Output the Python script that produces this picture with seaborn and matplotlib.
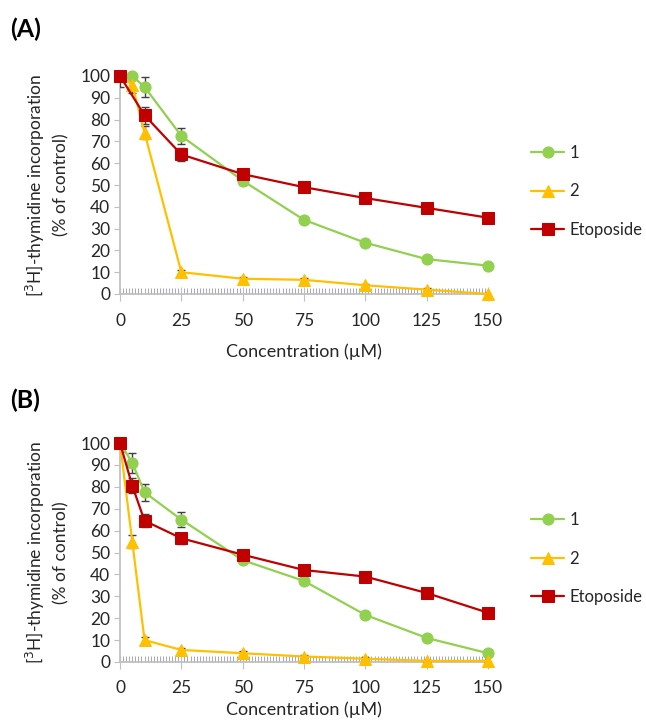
import numpy as np
import pandas as pd
import matplotlib
matplotlib.use("Agg")
import matplotlib.pyplot as plt
import seaborn as sns
from matplotlib.ticker import MultipleLocator

# --- dane ---
conc = [0, 5, 10, 25, 50, 75, 100, 125, 150]
conc_eto_a = [0, 10, 25, 50, 75, 100, 125, 150]

a_c1 = [100, 100, 95, 72.5, 52, 34, 23.5, 16, 13]
a_c1_err = [0.5, 0.5, 4.5, 3.5, 2, 1, 0.8, 0.8, 0.8]
a_c2 = [100, 96, 74, 10, 7, 6.5, 4, 2, 0]
a_c2_err = [0.5, 4, 3, 1, 1, 1, 0.8, 0.8, 0.5]
a_eto = [100, 82, 64, 55, 49, 44, 39.5, 35]
a_eto_err = [5, 4, 3, 2.5, 2, 1.5, 1, 1]

b_c1 = [100, 91, 77.5, 65, 46.5, 37, 21.5, 11, 4]
b_c1_err = [0.5, 4.5, 4, 3.5, 1.5, 1.5, 0.8, 0.8, 0.8]
b_c2 = [100, 55, 10, 5.5, 4, 2.5, 1.5, 0.5, 0.5]
b_c2_err = [0.5, 3, 1.5, 1, 1, 0.8, 0.8, 0.5, 0.5]
b_eto = [100, 80.5, 64.5, 56.5, 49, 42, 39, 31.5, 22.5]
b_eto_err = [4, 3.5, 3, 2.5, 2, 2, 1.5, 1, 1]

labels = ["1", "2", "Etoposide"]
colors = ["#92D050", "#FFC000", "#C00000"]
markers = ["o", "^", "s"]
panel_names = ["(A)", "(B)"]

sns.set_theme(style="white")
plt.rcParams["font.family"] = ["Lato", "DejaVu Sans"]

fig = plt.figure(figsize=(6.46, 7.28), dpi=100)
W, H = 646, 728


def rect(l, t, r, b):
    return [l / W, 1 - b / H, (r - l) / W, (b - t) / H]


panels = [
    dict(box=rect(120, 76, 488, 294), series=[(conc, a_c1, a_c1_err), (conc, a_c2, a_c2_err),
                                              (conc_eto_a, a_eto, a_eto_err)],
         label_y=29, leg_y=145, xpad=10, tpad=9),
    dict(box=rect(120, 443, 488, 662), series=[(conc, b_c1, b_c1_err), (conc, b_c2, b_c2_err),
                                               (conc, b_eto, b_eto_err)],
         label_y=400, leg_y=512, xpad=4, tpad=8),
]

for p, name in zip(panels, panel_names):
    ax = fig.add_axes(p["box"])
    for (x, y, e), lab, col, mk in zip(p["series"], labels, colors, markers):
        df = pd.DataFrame({"x": x, "y": y})
        ax.errorbar(x, y, yerr=e, fmt="none", ecolor="#404040", elinewidth=1,
                    capsize=3, capthick=1, zorder=3)
        sns.lineplot(data=df, x="x", y="y", ax=ax, color=col, marker=mk,
                     markersize=8 if mk != "^" else 9, markeredgecolor=col,
                     linewidth=1.6, label=lab, zorder=4, clip_on=False)
    ax.set_xlim(0, 150)
    ax.set_ylim(0, 100)
    ax.set_xticks([0, 25, 50, 75, 100, 125, 150])
    ax.set_yticks(range(0, 101, 10))
    ax.xaxis.set_minor_locator(MultipleLocator(1.25))
    for s in ["top", "right"]:
        ax.spines[s].set_visible(False)
    ax.spines["left"].set_color("#bfbfbf")
    ax.spines["bottom"].set_color("#bfbfbf")
    ax.tick_params(axis="y", which="major", direction="out", length=4, width=0.8,
                   color="#bfbfbf", labelsize=12.5, labelcolor="#262626", pad=3, left=True)
    ax.tick_params(axis="x", which="major", direction="inout", length=10, width=0.8,
                   color="#bfbfbf", labelsize=12.5, labelcolor="#262626", pad=p["tpad"],
                   bottom=True)
    ax.tick_params(axis="x", which="minor", direction="in", length=4, width=0.7,
                   color="#a6a6c0", bottom=True)
    ax.set_xlabel("Concentration (µM)", fontsize=13, color="#262626", labelpad=p["xpad"])
    ax.set_ylabel("[$^3$H]-thymidine incorporation\n(% of control)", fontsize=12.5,
                  color="#262626", labelpad=8, linespacing=1.45)
    ax.grid(False)
    leg = ax.legend(loc="upper left", bbox_to_anchor=(531 / W, 1 - p["leg_y"] / H),
                    bbox_transform=fig.transFigure, frameon=False, fontsize=12,
                    handlelength=2.0, labelspacing=1.35, handletextpad=0.3,
                    borderaxespad=0, borderpad=0)
    for t in leg.get_texts():
        t.set_color("#262626")
    fig.text(10 / W, 1 - p["label_y"] / H, name, fontsize=18, fontweight="bold",
             ha="left", va="center", color="black")

fig.savefig("out.png", dpi=100)
